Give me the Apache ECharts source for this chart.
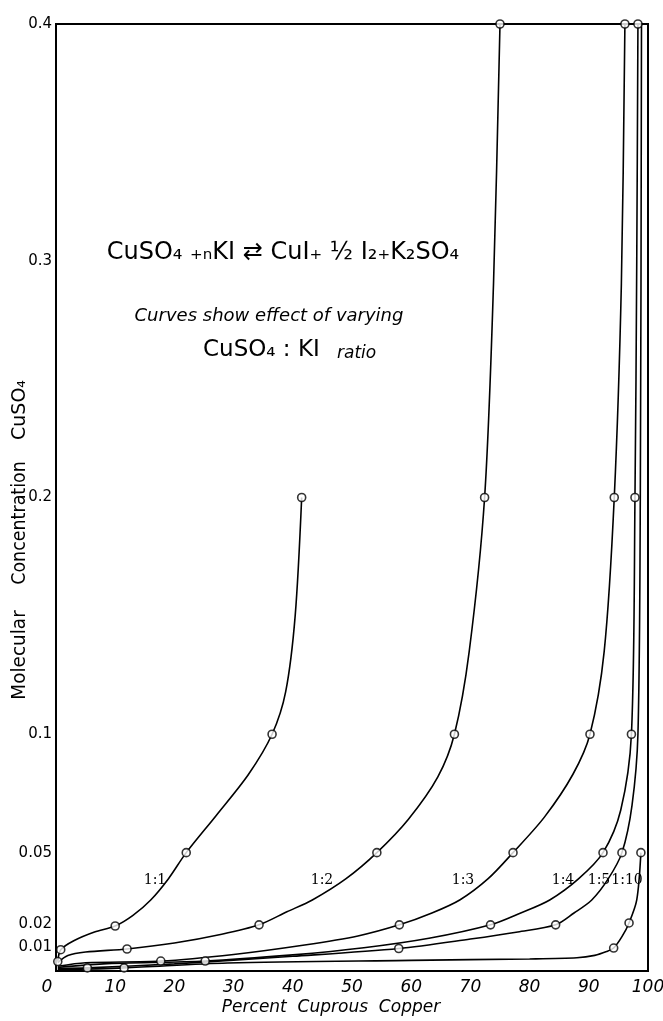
<!DOCTYPE html>
<html><head><meta charset="utf-8">
<script src="https://cdn.jsdelivr.net/npm/echarts@6/dist/echarts.min.js"></script>
<style>html,body{margin:0;padding:0;background:#fff}#c{width:663px;height:1021px}</style>
</head><body><div id="c"></div>
<script>
// Curve paths: [percent cuprous copper, molecular concentration CuSO4]
const curve11 = [[0.3,0.004],[0.8,0.009],[3,0.0128],[6.5,0.0165],[10,0.019],[13,0.0235],[16,0.03],[19,0.039],[22,0.05],[27,0.0655],[32.5,0.083],[36.5,0.1],[38.8,0.118],[40.4,0.15],[41.5,0.2]];
const pts11   = [[0.3,0.004],[0.8,0.009],[10,0.019],[22,0.05],[36.5,0.1],[41.5,0.2]];
const curve12 = [[0.3,0.0035],[2,0.0065],[5,0.008],[12,0.0093],[20,0.0118],[28,0.0155],[34.3,0.0195],[39,0.025],[43.3,0.03],[49,0.039],[54.2,0.05],[59.5,0.064],[64.5,0.082],[67.3,0.1],[69.8,0.135],[72.4,0.2],[73.9,0.29],[75,0.4]];
const pts12   = [[12,0.0093],[34.3,0.0195],[54.2,0.05],[67.3,0.1],[72.4,0.2],[75,0.4]];
const curve13 = [[0.3,0.002],[5,0.0035],[17.7,0.0042],[30,0.007],[42,0.011],[51,0.0148],[58,0.0195],[63.5,0.0245],[68.2,0.03],[73,0.039],[77.2,0.05],[82.5,0.065],[87.3,0.083],[90.2,0.1],[92.6,0.135],[94.3,0.2],[95.5,0.29],[96.1,0.4]];
const pts13   = [[17.7,0.0042],[58,0.0195],[77.2,0.05],[90.2,0.1],[94.3,0.2],[96.1,0.4]];
const curve14 = [[0.3,0.0015],[8,0.003],[25.2,0.0042],[40,0.0068],[52,0.0098],[63,0.0138],[73.4,0.0195],[78.5,0.0245],[83.4,0.03],[88.3,0.039],[92.4,0.05],[95.4,0.068],[97.2,0.1],[97.8,0.2],[98.1,0.3],[98.3,0.4]];
const pts14   = [[25.2,0.0042],[73.4,0.0195],[92.4,0.05],[97.2,0.1],[97.8,0.2],[98.3,0.4]];
const curve15 = [[0.3,0.001],[5.3,0.0013],[20,0.003],[40,0.0062],[57.9,0.0095],[70,0.0135],[78,0.0165],[84.4,0.0195],[87.5,0.0245],[90.5,0.03],[93.3,0.039],[95.6,0.05],[97.3,0.07],[98.3,0.1],[98.7,0.2],[98.9,0.4]];
const pts15   = [[5.3,0.0013],[57.9,0.0095],[84.4,0.0195],[95.6,0.05]];
const curve110 = [[0.3,0.0005],[11.5,0.0013],[29,0.0034],[60,0.0045],[80,0.0051],[88,0.0056],[91,0.0066],[93,0.0082],[94.2,0.0097],[95.6,0.0145],[96.8,0.0203],[98.1,0.03],[98.8,0.05]];
const pts110   = [[11.5,0.0013],[94.2,0.0097],[96.8,0.0203],[98.8,0.05]];
const xTicks = [0,10,20,30,40,50,60,70,80,90,100];
const yTicks = [0.01,0.02,0.05,0.1,0.2,0.3,0.4];
const ratioLabels = ['1:1','1:2','1:3','1:4','1:5','1:10'];

const font = 'DejaVu Sans';
const chart = echarts.init(document.getElementById('c'), null, {renderer:'canvas'});
const lineS = (d) => ({type:'line', data:d, smooth:0.3, showSymbol:false, symbol:'none', lineStyle:{color:'#000', width:1.6}, z:2, animation:false});
const ptS = (d) => ({type:'scatter', data:d, symbol:'circle', symbolSize:8, itemStyle:{color:'#fff', borderColor:'#000', borderWidth:1.6}, z:3, animation:false});
const labelPos = [[155,880],[322,880],[463,880],[563,880],[599,880],[627,880]];

chart.setOption({
  animation:false,
  grid:{left:56, right:15, top:24, bottom:50, show:true, borderColor:'#000', borderWidth:2, containLabel:false, outerBoundsMode:'none'},
  xAxis:{type:'value', min:0, max:100, interval:10,
    axisLine:{show:true, lineStyle:{color:'#000', width:2}}, axisTick:{show:false}, splitLine:{show:false},
    axisLabel:{color:'#000', fontFamily:font, fontStyle:'italic', fontSize:17, margin:8,
      customValues: xTicks,
      formatter: v => v === 0 ? '{z|0}' : String(v),
      rich:{z:{color:'#000', fontFamily:font, fontStyle:'italic', fontSize:17, padding:[0,18,0,0]}}}},
  yAxis:{type:'value', min:0, max:0.4,
    axisLine:{show:true, lineStyle:{color:'#000', width:2}}, axisTick:{show:false}, splitLine:{show:false},
    axisLabel:{color:'#000', fontFamily:font, fontSize:15, margin:4,
      customValues: yTicks, formatter: v => String(v)}},
  series:[lineS(curve11),lineS(curve12),lineS(curve13),lineS(curve14),lineS(curve15),lineS(curve110),
    ptS(pts11),ptS(pts12),ptS(pts13),ptS(pts14),ptS(pts15),ptS(pts110)],
  graphic:[
    {type:'text', x:331, y:1008, style:{text:'Percent  Cuprous  Copper', font:'italic 17px "DejaVu Sans"', fill:'#000', align:'center', verticalAlign:'middle'}},
    {type:'text', x:20, y:655, rotation:Math.PI/2, scaleX:0.97, style:{text:'Molecular', font:'19px "DejaVu Sans"', fill:'#000', align:'center', verticalAlign:'middle'}},
    {type:'text', x:20, y:523, rotation:Math.PI/2, scaleX:0.92, style:{text:'Concentration', font:'19px "DejaVu Sans"', fill:'#000', align:'center', verticalAlign:'middle'}},
    {type:'text', x:20, y:410, rotation:Math.PI/2, scaleX:1.0, style:{text:'CuSO₄', font:'19px "DejaVu Sans"', fill:'#000', align:'center', verticalAlign:'middle'}},
    {type:'text', x:283, y:253, style:{text:'CuSO₄ ₊ₙKI ⇄ CuI₊ ½ I₂₊K₂SO₄', font:'24px "DejaVu Sans"', fill:'#000', align:'center', verticalAlign:'middle'}},
    {type:'text', x:269, y:316, style:{text:'Curves show effect of varying', font:'italic 18px "DejaVu Sans"', fill:'#000', align:'center', verticalAlign:'middle'}},
    {type:'text', x:203, y:350, style:{text:'CuSO₄ : KI', font:'23px "DejaVu Sans"', fill:'#000', align:'left', verticalAlign:'middle'}},
    {type:'text', x:337, y:354, style:{text:'ratio', font:'italic 17px "DejaVu Sans"', fill:'#000', align:'left', verticalAlign:'middle'}},
    ...ratioLabels.map((t,i)=>({type:'text', x:labelPos[i][0], y:labelPos[i][1], style:{text:t, font:'14px "DejaVu Serif"', fill:'#000', align:'center', verticalAlign:'middle'}}))
  ]
});
</script></body></html>
